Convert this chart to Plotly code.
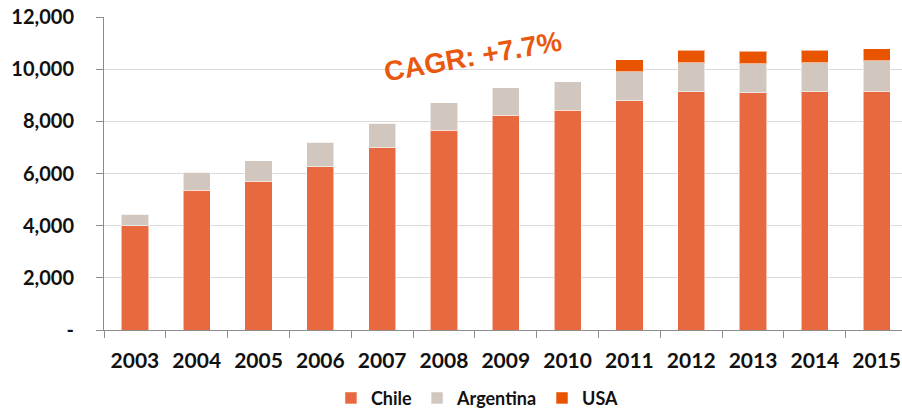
import plotly.graph_objects as go

# Annual volumes by origin (stacked)
years = ["2003", "2004", "2005", "2006", "2007", "2008", "2009",
         "2010", "2011", "2012", "2013", "2014", "2015"]
chile = [4000, 5360, 5700, 6250, 6990, 7650, 8240, 8420, 8780, 9130, 9090, 9130, 9160]
argentina = [430, 690, 790, 940, 930, 1060, 1040, 1100, 1120, 1120, 1120, 1120, 1160]
usa = [0, 0, 0, 0, 0, 0, 0, 0, 460, 480, 470, 480, 470]

y_ticks = [0, 2000, 4000, 6000, 8000, 10000, 12000]
y_tick_text = ["-", "2,000", "4,000", "6,000", "8,000", "10,000", "12,000"]

cagr_label = "CAGR: +7.7%"

colors = {"Chile": "#E8683F", "Argentina": "#D1C7BF", "USA": "#E85400"}
bar_line = dict(color="rgba(255,255,255,0.55)", width=1)

fig = go.Figure()
for name, vals in [("Chile", chile), ("Argentina", argentina), ("USA", usa)]:
    fig.add_trace(go.Bar(
        x=years, y=vals, name=name,
        marker=dict(color=colors[name], line=bar_line),
        hoverinfo="x+y+name",
    ))

y_font = dict(family="Lato, 'Open Sans', sans-serif", size=20,
              color="#111111", weight="bold")
x_font = dict(family="Lato, 'Open Sans', sans-serif", size=21,
              color="#111111", weight="bold")

fig.update_layout(
    barmode="stack",
    bargap=0.56,
    width=902, height=417,
    margin=dict(l=104, r=0, t=17, b=83),
    paper_bgcolor="white",
    plot_bgcolor="white",
    font=y_font,
    showlegend=True,
    legend=dict(
        orientation="h",
        x=0.468, xanchor="center",
        y=-0.218, yanchor="middle",
        font=dict(family="Lato, 'Open Sans', sans-serif", size=18,
                  color="#111111", weight="bold"),
        itemwidth=30,
        traceorder="normal",
        bgcolor="rgba(0,0,0,0)",
    ),
    xaxis=dict(
        type="category",
        range=[-0.5, 12.41],
        showline=True, linecolor="#8C8C8C", linewidth=1,
        ticks="outside", tickson="boundaries", ticklen=7, tickcolor="#8C8C8C",
        ticklabelstandoff=12,
        showgrid=False,
        tickfont=x_font,
        fixedrange=True,
    ),
    yaxis=dict(
        range=[0, 12000],
        tickvals=y_ticks, ticktext=y_tick_text,
        showline=True, linecolor="#8C8C8C", linewidth=1,
        ticks="outside", ticklen=7, tickcolor="#8C8C8C",
        ticklabelstandoff=18,
        showgrid=True, gridcolor="#DADADA", gridwidth=1,
        zeroline=False,
        tickfont=y_font,
        fixedrange=True,
    ),
    annotations=[dict(
        text=f"<b>{cagr_label}</b>",
        x=0.462, y=0.875, xref="paper", yref="paper",
        xanchor="center", yanchor="middle",
        showarrow=False, textangle=-10,
        font=dict(family="Liberation Sans, Arial, sans-serif", size=28, color="#E8590F"),
    )],
)

fig.write_html("out.html")
